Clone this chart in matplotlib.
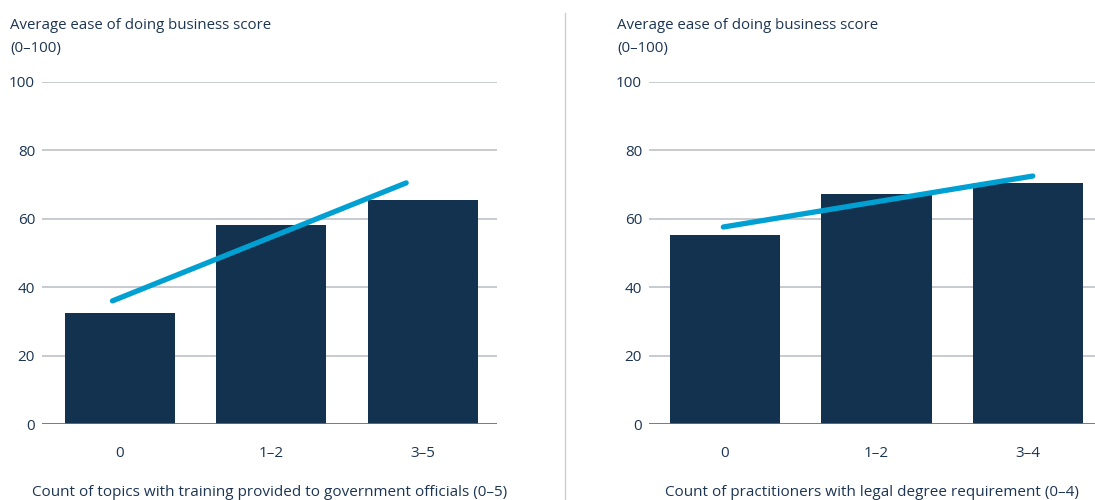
import matplotlib
matplotlib.use("Agg")
import matplotlib.pyplot as plt
from matplotlib.lines import Line2D

plt.rcParams['font.family'] = ['Open Sans', 'DejaVu Sans']

# Data
left_categories = ["0", "1–2", "3–5"]
left_values = [32.5, 58.2, 65.5]
left_trend_x = [-0.05, 1.89]
left_trend_y = [36.0, 70.5]
left_xlabel = "Count of topics with training provided to government officials (0–5)"

right_categories = ["0", "1–2", "3–4"]
right_values = [55.3, 67.3, 70.5]
right_trend_x = [-0.01, 2.03]
right_trend_y = [57.6, 72.5]
right_xlabel = "Count of practitioners with legal degree requirement (0–4)"

ylabel_title = "Average ease of doing business score\n(0–100)"
yticks = [0, 20, 40, 60, 80, 100]

BAR = "#12324f"
LINE = "#00a0d2"
TEXT = "#1c3552"
GRID = "#c3c7cb"
BASE = "#6e6e6e"

fig = plt.figure(figsize=(10.95, 5.0), dpi=100)

def panel(rect, cats, vals, tx, ty, xlabel, xlim, title_x):
    ax = fig.add_axes(rect)
    xs = list(range(len(cats)))
    ax.bar(xs, vals, width=0.727, color=BAR, zorder=2)
    ax.plot(tx, ty, color=LINE, lw=3.8, solid_capstyle='round', zorder=3)
    ax.set_ylim(0, 100)
    ax.set_xlim(*xlim)
    ax.set_yticks(yticks)
    ax.set_xticks(xs)
    ax.set_xticklabels(cats)
    for y in yticks[1:]:
        ax.axhline(y, color=GRID, lw=1.3, zorder=1)
    ax.axhline(0, color=BASE, lw=2.0, zorder=4)
    for s in ax.spines.values():
        s.set_visible(False)
    ax.tick_params(axis='both', length=0, labelsize=11, colors=TEXT)
    ax.tick_params(axis='y', pad=5)
    ax.tick_params(axis='x', pad=16)
    ax.set_xlabel(xlabel, fontsize=11, color=TEXT, labelpad=17)
    fig.text(title_x, 0.964, ylabel_title, ha='left', va='top',
             fontsize=10.8, color=TEXT, linespacing=1.7)
    return ax

panel([0.0384, 0.152, 0.4155, 0.684], left_categories, left_values,
      left_trend_x, left_trend_y, left_xlabel, (-0.515, 2.49), 10/1095)
panel([0.5927, 0.152, 0.4073, 0.684], right_categories, right_values,
      right_trend_x, right_trend_y, right_xlabel, (-0.50, 2.44), 617/1095)

fig.add_artist(Line2D([565/1095, 565/1095], [0, 0.975], color="#cccccc", lw=1.0))

fig.savefig("out.png", dpi=100)
